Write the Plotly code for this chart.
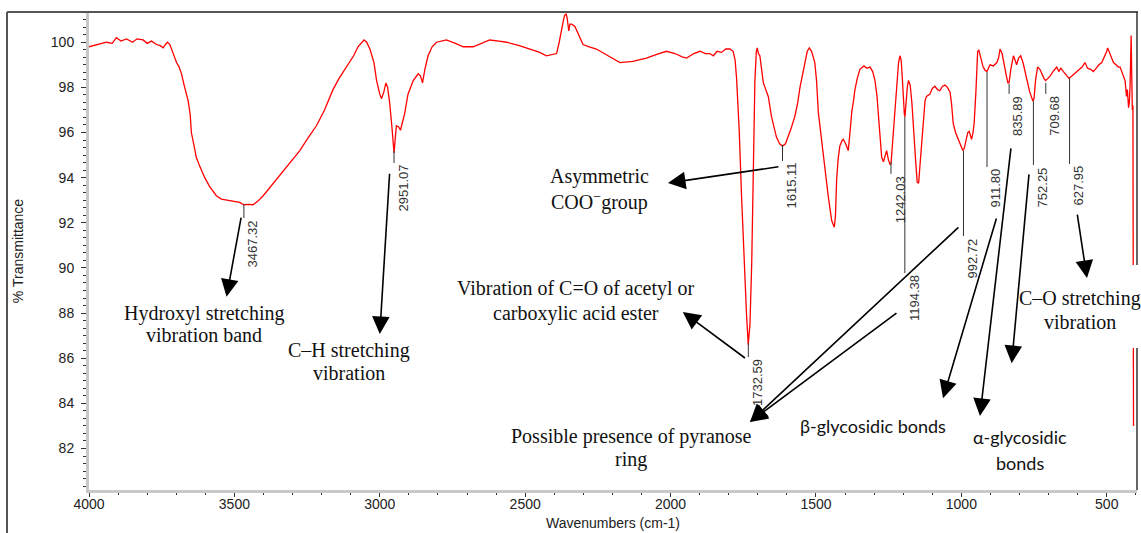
import plotly.graph_objects as go

# ---------------- data ----------------
wavenumber = [4000, 3970, 3940, 3920, 3906, 3890, 3871, 3850, 3835, 3814, 3800, 3785, 3768, 3755, 3745, 3737,
              3730, 3722, 3716, 3699, 3690, 3682, 3671, 3659, 3652, 3648, 3640, 3631, 3619, 3602, 3585, 3562,
              3545, 3527, 3505, 3482, 3467, 3453, 3436, 3420, 3401, 3370, 3333, 3300, 3275, 3250, 3218, 3190,
              3161, 3140, 3115, 3090, 3075, 3062, 3054, 3045, 3034, 3020, 3011, 3000, 2994, 2986, 2979, 2973,
              2966, 2958, 2951, 2943, 2935, 2929, 2915, 2903, 2885, 2868, 2860, 2853, 2845, 2834, 2820, 2805,
              2771, 2740, 2713, 2679, 2650, 2622, 2590, 2564, 2520, 2484, 2450, 2427, 2405, 2392, 2383, 2375,
              2368, 2364, 2359, 2356, 2352, 2350, 2346, 2340, 2329, 2315, 2301, 2280, 2255, 2215, 2174, 2130,
              2083, 2050, 2014, 1985, 1960, 1945, 1920, 1899, 1880, 1865, 1853, 1840, 1825, 1810, 1796, 1785,
              1778, 1773, 1768, 1764, 1756, 1747, 1739, 1733, 1727, 1721, 1716, 1710, 1705, 1702, 1698, 1693,
              1681, 1672, 1664, 1653, 1645, 1636, 1625, 1615, 1605, 1596, 1585, 1573, 1563, 1555, 1545, 1538,
              1530, 1523, 1515, 1504, 1498, 1492, 1483, 1475, 1466, 1458, 1446, 1440, 1437, 1433, 1429, 1424,
              1418, 1410, 1406, 1398, 1389, 1383, 1377, 1371, 1366, 1358, 1349, 1335, 1325, 1314, 1305, 1297,
              1290, 1286, 1280, 1274, 1268, 1262, 1257, 1251, 1246, 1242, 1238, 1234, 1228, 1223, 1216, 1211,
              1207, 1203, 1199, 1196, 1194, 1190, 1186, 1182, 1176, 1170, 1165, 1158, 1152, 1147, 1142, 1137,
              1130, 1125, 1120, 1108, 1100, 1091, 1082, 1074, 1065, 1056, 1048, 1039, 1034, 1028, 1020, 1011,
              1003, 995, 990, 984, 978, 973, 968, 965, 960, 956, 950, 944, 940, 933, 925, 918,
              912, 905, 901, 890, 878, 872, 867, 860, 852, 845, 840, 836, 830, 821, 815, 810,
              803, 796, 788, 775, 765, 754, 750, 745, 738, 730, 724, 716, 710, 702, 695, 685,
              672, 665, 658, 649, 640, 630, 620, 612, 603, 595, 585, 575, 566, 556, 546, 536,
              527, 517, 508, 500, 497, 490, 484, 477, 468, 460, 454, 446, 440, 437, 432, 429,
              425, 422, 420, 418, 416, 414, 412, 410, 409, 408]
transmittance = [99.8, 99.9, 100.0, 99.95, 100.2, 100.05, 100.15, 100.0, 100.15, 100.1, 99.95, 100.05, 99.9, 99.85, 99.75, 99.9,
                 100.0, 99.9, 99.7, 99.1, 98.9, 98.6, 98.0, 97.4, 96.8, 96.0, 95.5, 94.9, 94.5, 94.0, 93.6, 93.2,
                 93.05, 93.0, 92.95, 92.9, 92.8, 92.82, 92.8, 92.95, 93.2, 93.7, 94.3, 94.8, 95.2, 95.7, 96.3, 97.0,
                 97.9, 98.4, 98.9, 99.4, 99.8, 100.0, 100.1, 100.0, 99.7, 99.1, 98.3, 97.7, 97.5, 97.8, 98.2, 98.0,
                 97.3, 96.2, 95.1, 96.3, 96.25, 96.1, 96.8, 97.7, 98.3, 98.6, 98.5, 98.2, 98.8, 99.4, 99.8, 100.0,
                 100.1, 99.95, 99.8, 99.8, 99.95, 100.1, 100.05, 100.0, 99.85, 99.7, 99.55, 99.4, 99.45, 99.5, 100.0, 100.6,
                 101.0, 101.2, 101.25, 101.1, 100.6, 100.5, 100.8, 100.8, 100.7, 100.3, 99.9, 99.8, 99.7, 99.4, 99.1, 99.15,
                 99.3, 99.45, 99.6, 99.5, 99.35, 99.3, 99.5, 99.6, 99.5, 99.5, 99.4, 99.6, 99.55, 99.7, 99.7, 99.6,
                 99.2, 98.4, 97.3, 96.1, 93.2, 90.2, 88.0, 86.6, 87.5, 90.2, 94.6, 98.3, 99.6, 99.75, 99.5, 99.4,
                 98.2, 97.9, 97.6, 96.7, 96.3, 95.8, 95.5, 95.4, 95.5, 95.8, 96.2, 96.7, 97.3, 98.0, 98.7, 99.2,
                 99.6, 99.75, 99.6, 99.1, 98.3, 96.9, 95.9, 94.9, 94.0, 93.2, 92.1, 91.9, 91.8, 92.3, 93.9, 94.8,
                 95.4, 95.65, 95.7, 95.5, 95.2, 96.0, 96.9, 97.4, 97.9, 98.4, 98.8, 98.95, 98.85, 98.9, 98.7, 98.3,
                 97.6, 96.9, 95.9, 94.9, 94.7, 95.0, 95.2, 94.8, 94.6, 94.6, 95.3, 96.1, 97.2, 98.3, 99.1, 99.4,
                 99.2, 98.4, 97.2, 96.8, 96.7, 97.4, 98.0, 98.3, 98.1, 97.3, 96.1, 94.9, 93.8, 93.75, 94.6, 95.4,
                 96.6, 97.4, 97.6, 97.7, 97.95, 98.05, 97.9, 97.85, 98.05, 98.1, 98.0, 97.8, 97.3, 96.4, 96.0, 95.7,
                 95.45, 95.2, 95.3, 95.7, 96.0, 96.05, 95.8, 95.7, 96.0, 96.4, 97.8, 99.6, 99.65, 99.3, 98.9, 98.75,
                 98.7, 98.9, 99.0, 98.95, 99.1, 99.3, 99.7, 99.5, 98.9, 98.5, 98.2, 98.2, 98.8, 99.4, 99.2, 99.0,
                 99.3, 99.4, 99.1, 98.3, 97.8, 97.4, 97.5, 98.3, 98.9, 98.8, 98.6, 98.4, 98.3, 98.4, 98.5, 98.7,
                 98.9, 98.7, 98.85, 98.7, 98.55, 98.4, 98.5, 98.6, 98.7, 98.8, 98.9, 99.1, 98.85, 98.8, 98.7, 98.85,
                 99.0, 99.1, 99.35, 99.6, 99.75, 99.5, 99.3, 99.1, 99.0, 98.9, 98.9, 98.6, 98.4, 98.3, 97.6, 97.9,
                 97.1, 97.4, 98.0, 99.3, 100.3, 98.5, 97.0, 97.2, 90.0, 83.0]

x_ticks = [4000, 3500, 3000, 2500, 2000, 1500, 1000, 500]
y_ticks = [82, 84, 86, 88, 90, 92, 94, 96, 98, 100]

# peak labels: wavenumber, transmittance at the peak, transmittance where label starts
peak_wn = [3467.32, 2951.07, 1732.59, 1615.11, 1242.03, 1194.38, 992.72, 911.80, 835.89, 752.25, 709.68, 627.95]
peak_T = [92.83, 95.18, 86.67, 95.45, 94.70, 96.69, 95.18, 98.68, 98.15, 97.40, 98.20, 98.42]
peak_label_T = [92.21, 94.65, 86.05, 94.74, 94.17, 89.77, 91.41, 94.47, 97.71, 94.56, 97.71, 94.61]
peak_text = ["3467.32", "2951.07", "1732.59", "1615.11", "1242.03", "1194.38", "992.72", "911.80",
             "835.89", "752.25", "709.68", "627.95"]

# assignment text lines (serif): text, wavenumber centre, transmittance centre
serif_text = ["Hydroxyl stretching", "vibration band", "C–H stretching", "vibration",
              "Asymmetric", "COO<sup>−</sup>group", "Vibration of C=O of acetyl or", "carboxylic acid ester",
              "Possible presence of pyranose", "ring", "C–O stretching", "vibration"]
serif_wn = [3604, 3604, 3107, 3107, 2243, 2243, 2326, 2326, 2135, 2135, 592, 592]
serif_T = [88.00, 87.02, 86.36, 85.34, 94.04, 92.93, 89.10, 88.00, 82.52, 81.49, 88.65, 87.62]

sans_text = ["β-glycosidic bonds", "α-glycosidic", "bonds"]
sans_wn = [1304, 799, 799]
sans_T = [83.01, 82.49, 81.37]

# arrows: tail (wn, T) -> head (wn, T)
arrow_tail_wn = [3476, 2966, 1624, 1739, 1005, 1218, 878, 829, 767, 602]
arrow_tail_T = [92.30, 94.24, 94.49, 85.96, 91.86, 88.05, 92.26, 95.36, 94.21, 92.43]
arrow_head_wn = [3527, 3000, 2009, 1958, 1727, 1727, 1063, 936, 827, 568]
arrow_head_T = [88.72, 87.07, 93.76, 88.05, 83.17, 83.17, 84.23, 83.44, 85.78, 89.55]

# ---------------- figure ----------------
W, H = 1141, 533
ML, MR, MT, MB = 89, 4, 12, 43

fig = go.Figure()
fig.add_trace(go.Scatter(x=wavenumber, y=transmittance, mode="lines",
                         line=dict(color="#ff0000", width=1.3), hoverinfo="skip", showlegend=False))

shapes = []
for wn, t0, t1 in zip(peak_wn, peak_T, peak_label_T):
    shapes.append(dict(type="line", xref="x", yref="y", x0=wn, x1=wn, y0=t0, y1=t1,
                       line=dict(color="#333333", width=1)))

pw = W - ML - MR
ph = H - MT - MB
def px(xp):
    return (xp - ML) / pw
def py(yp):
    return (H - MB - yp) / ph

# frame
shapes.append(dict(type="line", xref="paper", yref="paper", x0=px(7), x1=px(1138), y0=1, y1=1,
                   line=dict(color="#555555", width=2)))
shapes.append(dict(type="line", xref="paper", yref="paper", x0=px(7), x1=px(7), y0=1, y1=py(533),
                   line=dict(color="#555555", width=2)))
shapes.append(dict(type="line", xref="paper", yref="paper", x0=1, x1=1, y0=0, y1=1,
                   line=dict(color="#333333", width=1.5)))
# white box behind the C–O caption
shapes.append(dict(type="rect", xref="paper", yref="paper", x0=px(1015), x1=px(1141), y0=py(348), y1=py(265),
                   fillcolor="white", line=dict(width=0), layer="above"))

annotations = []
for wn, t1, txt in zip(peak_wn, peak_label_T, peak_text):
    annotations.append(dict(x=wn, y=t1, xref="x", yref="y", text=txt, showarrow=False,
                            textangle=-90, xanchor="center", yanchor="top", xshift=9,
                            font=dict(family="Liberation Sans, Arial", size=13, color="#333333")))
for txt, wn, t in zip(serif_text, serif_wn, serif_T):
    annotations.append(dict(x=wn, y=t, xref="x", yref="y", text=txt, showarrow=False,
                            xanchor="center", yanchor="middle",
                            font=dict(family="Liberation Serif, Times New Roman", size=20, color="#111111")))
for txt, wn, t in zip(sans_text, sans_wn, sans_T):
    annotations.append(dict(x=wn, y=t, xref="x", yref="y", text=txt, showarrow=False,
                            xanchor="center", yanchor="middle",
                            font=dict(family="Lato, Noto Sans", size=18, color="#111111")))
for tw, tt, hw, ht in zip(arrow_tail_wn, arrow_tail_T, arrow_head_wn, arrow_head_T):
    annotations.append(dict(x=hw, y=ht, ax=tw, ay=tt, xref="x", yref="y", axref="x", ayref="y",
                            text="", showarrow=True, arrowhead=2, arrowsize=2.2, arrowwidth=1.6,
                            arrowcolor="#000000", standoff=0, startstandoff=0))

axis_font = dict(family="Liberation Sans, Arial", size=14, color="#222222")
fig.update_layout(
    width=W, height=H,
    margin=dict(l=ML, r=MR, t=MT, b=MB, pad=0, autoexpand=False),
    paper_bgcolor="white", plot_bgcolor="white",
    shapes=shapes, annotations=annotations,
    xaxis=dict(range=[4000, 396], tickmode="array", tickvals=x_ticks, ticktext=[str(v) for v in x_ticks],
               ticks="outside", ticklen=4, tickwidth=1, tickcolor="#333333", ticklabelstandoff=-5,
               minor=dict(dtick=100, tick0=0, ticks="outside", ticklen=2, tickcolor="#333333", showgrid=False),
               showline=True, linecolor="#c8c8c8", linewidth=3, showgrid=False, zeroline=False,
               tickfont=axis_font, automargin=False,
               title=dict(text="Wavenumbers (cm-1)", font=axis_font, standoff=8)),
    yaxis=dict(range=[80.16, 101.34], tickmode="array", tickvals=y_ticks, ticktext=[str(v) for v in y_ticks],
               ticks="outside", ticklen=5, tickwidth=1, tickcolor="#333333", ticklabelstandoff=4,
               minor=dict(dtick=2/6, tick0=80, ticks="outside", ticklen=3, tickcolor="#333333", showgrid=False),
               showline=True, linecolor="#c8c8c8", linewidth=3, showgrid=False, zeroline=False,
               tickfont=axis_font, automargin=False,
               title=dict(text="% Transmittance", font=axis_font, standoff=24)),
)

fig.write_html("out.html", config={"displayModeBar": False},
               post_script="document.body.style.margin='0';document.body.style.overflow='hidden';")
